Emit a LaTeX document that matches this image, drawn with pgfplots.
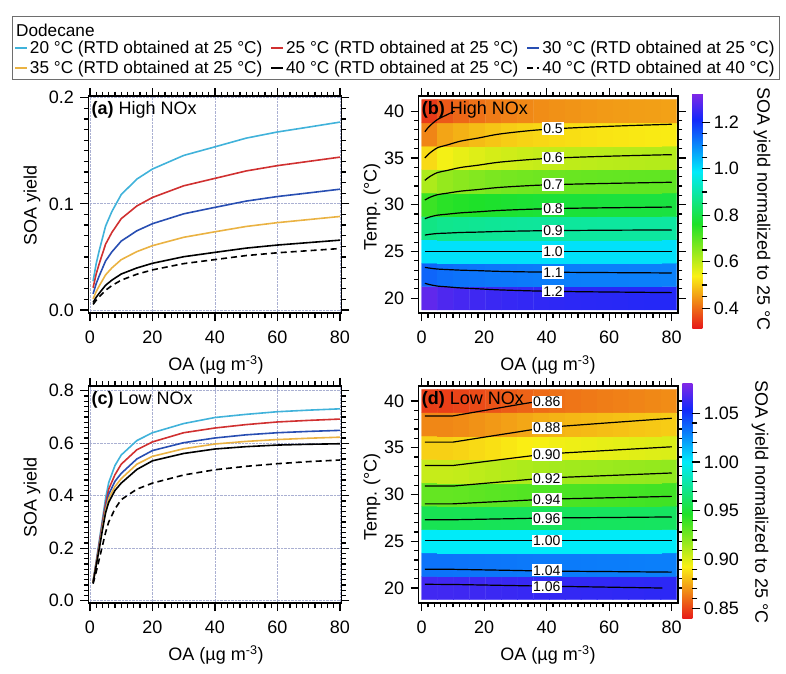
\documentclass[border=0pt]{standalone}
\usepackage{fontspec}
\setmainfont{Liberation Sans}
\usepackage{pgfplots}
\usepackage{pgfplotstable}
\pgfplotsset{compat=1.18}
\definecolor{cA}{RGB}{64,178,218}
\definecolor{cB}{RGB}{208,48,48}
\definecolor{cC}{RGB}{40,78,178}
\definecolor{cD}{RGB}{234,178,66}
\definecolor{gridc}{RGB}{170,176,210}
\definecolor{boxc}{RGB}{110,110,110}
\newcommand\fa{\fontsize{18bp}{21bp}\selectfont}
\newcommand\fl{\fontsize{17.2bp}{19bp}\selectfont}
\newcommand\fc{\fontsize{14bp}{16bp}\selectfont}
\pgfplotsset{
  colormap={igor}{rgb255(0cm)=(230,25,25) rgb255(2cm)=(250,240,20) rgb255(4cm)=(30,225,40) rgb255(6cm)=(0,235,250) rgb255(8cm)=(20,40,250) rgb255(9cm)=(130,40,230)},
  /pgf/number format/assume math mode=true,
  base/.style={scale only axis, anchor=south west,
    tick align=outside, major tick length=8bp, minor tick length=4.5bp,
    every tick/.append style={black, line width=1.2bp},
    xtick pos=both, ytick pos=both, xticklabel pos=lower, yticklabel pos=left,
    axis line style={line width=1.6bp},
    ticklabel style={font=\fa},
    xticklabel style={yshift=-6bp},
    yticklabel style={xshift=-3bp},
    xtick={0,20,40,60,80}, minor x tick num=9},
  cbar/.style={scale only axis, width=10bp,
    ytick pos=right, yticklabel pos=right, tick align=outside,
    major tick length=8bp, minor tick length=5bp,
    every tick/.append style={black, line width=1.2bp},
    axis line style={draw=none}},
  curve/.style={line width=1.6bp},
}
\pgfplotstableread[row sep=\\]{
x y v \\
2.55 20 1.290 \\ 7.65 20 1.272 \\ 12.75 20 1.264 \\ 17.85 20 1.257 \\ 22.95 20 1.252 \\ 28.05 20 1.247 \\ 33.15 20 1.244 \\ 38.25 20 1.241 \\ 43.35 20 1.239 \\ 48.45 20 1.237 \\ 53.55 20 1.235 \\ 58.65 20 1.234 \\ 63.75 20 1.233 \\ 68.85 20 1.231 \\ 73.95 20 1.230 \\ 79.05 20 1.229 \\
2.55 22.5 1.142 \\ 7.65 22.5 1.132 \\ 12.75 22.5 1.128 \\ 17.85 22.5 1.125 \\ 22.95 22.5 1.122 \\ 28.05 22.5 1.120 \\ 33.15 22.5 1.118 \\ 38.25 22.5 1.116 \\ 43.35 22.5 1.115 \\ 48.45 22.5 1.114 \\ 53.55 22.5 1.113 \\ 58.65 22.5 1.112 \\ 63.75 22.5 1.112 \\ 68.85 22.5 1.111 \\ 73.95 22.5 1.111 \\ 79.05 22.5 1.110 \\
2.55 25 1.000 \\ 7.65 25 1.000 \\ 12.75 25 1.000 \\ 17.85 25 1.000 \\ 22.95 25 1.000 \\ 28.05 25 1.000 \\ 33.15 25 1.000 \\ 38.25 25 1.000 \\ 43.35 25 1.000 \\ 48.45 25 1.000 \\ 53.55 25 1.000 \\ 58.65 25 1.000 \\ 63.75 25 1.000 \\ 68.85 25 1.000 \\ 73.95 25 1.000 \\ 79.05 25 1.000 \\
2.55 27.5 0.862 \\ 7.65 27.5 0.871 \\ 12.75 27.5 0.875 \\ 17.85 27.5 0.878 \\ 22.95 27.5 0.881 \\ 28.05 27.5 0.883 \\ 33.15 27.5 0.885 \\ 38.25 27.5 0.886 \\ 43.35 27.5 0.887 \\ 48.45 27.5 0.888 \\ 53.55 27.5 0.889 \\ 58.65 27.5 0.890 \\ 63.75 27.5 0.890 \\ 68.85 27.5 0.891 \\ 73.95 27.5 0.891 \\ 79.05 27.5 0.892 \\
2.55 30 0.734 \\ 7.65 30 0.751 \\ 12.75 30 0.758 \\ 17.85 30 0.764 \\ 22.95 30 0.769 \\ 28.05 30 0.773 \\ 33.15 30 0.776 \\ 38.25 30 0.779 \\ 43.35 30 0.781 \\ 48.45 30 0.783 \\ 53.55 30 0.784 \\ 58.65 30 0.786 \\ 63.75 30 0.787 \\ 68.85 30 0.788 \\ 73.95 30 0.789 \\ 79.05 30 0.790 \\
2.55 32.5 0.618 \\ 7.65 32.5 0.642 \\ 12.75 32.5 0.652 \\ 17.85 32.5 0.660 \\ 22.95 32.5 0.668 \\ 28.05 32.5 0.673 \\ 33.15 32.5 0.678 \\ 38.25 32.5 0.681 \\ 43.35 32.5 0.684 \\ 48.45 32.5 0.687 \\ 53.55 32.5 0.689 \\ 58.65 32.5 0.691 \\ 63.75 32.5 0.692 \\ 68.85 32.5 0.694 \\ 73.95 32.5 0.695 \\ 79.05 32.5 0.697 \\
2.55 35 0.516 \\ 7.65 35 0.545 \\ 12.75 35 0.557 \\ 17.85 35 0.567 \\ 22.95 35 0.576 \\ 28.05 35 0.583 \\ 33.15 35 0.589 \\ 38.25 35 0.593 \\ 43.35 35 0.596 \\ 48.45 35 0.600 \\ 53.55 35 0.602 \\ 58.65 35 0.605 \\ 63.75 35 0.606 \\ 68.85 35 0.608 \\ 73.95 35 0.610 \\ 79.05 35 0.611 \\
2.55 37.5 0.427 \\ 7.65 37.5 0.460 \\ 12.75 37.5 0.473 \\ 17.85 37.5 0.484 \\ 22.95 37.5 0.494 \\ 28.05 37.5 0.502 \\ 33.15 37.5 0.508 \\ 38.25 37.5 0.513 \\ 43.35 37.5 0.517 \\ 48.45 37.5 0.520 \\ 53.55 37.5 0.523 \\ 58.65 37.5 0.526 \\ 63.75 37.5 0.528 \\ 68.85 37.5 0.530 \\ 73.95 37.5 0.532 \\ 79.05 37.5 0.533 \\
2.55 40 0.348 \\ 7.65 40 0.381 \\ 12.75 40 0.395 \\ 17.85 40 0.406 \\ 22.95 40 0.416 \\ 28.05 40 0.424 \\ 33.15 40 0.430 \\ 38.25 40 0.435 \\ 43.35 40 0.439 \\ 48.45 40 0.443 \\ 53.55 40 0.446 \\ 58.65 40 0.449 \\ 63.75 40 0.451 \\ 68.85 40 0.453 \\ 73.95 40 0.454 \\ 79.05 40 0.456 \\
}\tabB
\pgfplotstableread[row sep=\\]{
x y v \\
2.55 20 1.0650 \\ 7.65 20 1.0650 \\ 12.75 20 1.0647 \\ 17.85 20 1.0642 \\ 22.95 20 1.0637 \\ 28.05 20 1.0632 \\ 33.15 20 1.0627 \\ 38.25 20 1.0622 \\ 43.35 20 1.0618 \\ 48.45 20 1.0616 \\ 53.55 20 1.0613 \\ 58.65 20 1.0611 \\ 63.75 20 1.0608 \\ 68.85 20 1.0606 \\ 73.95 20 1.0603 \\ 79.05 20 1.0600 \\
2.55 22.5 1.0334 \\ 7.65 22.5 1.0334 \\ 12.75 22.5 1.0332 \\ 17.85 22.5 1.0329 \\ 22.95 22.5 1.0325 \\ 28.05 22.5 1.0322 \\ 33.15 22.5 1.0318 \\ 38.25 22.5 1.0315 \\ 43.35 22.5 1.0312 \\ 48.45 22.5 1.0311 \\ 53.55 22.5 1.0309 \\ 58.65 22.5 1.0307 \\ 63.75 22.5 1.0306 \\ 68.85 22.5 1.0304 \\ 73.95 22.5 1.0302 \\ 79.05 22.5 1.0300 \\
2.55 25 1.0 \\ 7.65 25 1.0 \\ 12.75 25 1.0 \\ 17.85 25 1.0 \\ 22.95 25 1.0 \\ 28.05 25 1.0 \\ 33.15 25 1.0 \\ 38.25 25 1.0 \\ 43.35 25 1.0 \\ 48.45 25 1.0 \\ 53.55 25 1.0 \\ 58.65 25 1.0 \\ 63.75 25 1.0 \\ 68.85 25 1.0 \\ 73.95 25 1.0 \\ 79.05 25 1.0 \\
2.55 27.5 0.9576 \\ 7.65 27.5 0.9576 \\ 12.75 27.5 0.9578 \\ 17.85 27.5 0.9581 \\ 22.95 27.5 0.9585 \\ 28.05 27.5 0.9588 \\ 33.15 27.5 0.9592 \\ 38.25 27.5 0.9595 \\ 43.35 27.5 0.9598 \\ 48.45 27.5 0.9599 \\ 53.55 27.5 0.9601 \\ 58.65 27.5 0.9603 \\ 63.75 27.5 0.9604 \\ 68.85 27.5 0.9606 \\ 73.95 27.5 0.9608 \\ 79.05 27.5 0.9610 \\
2.55 30 0.9295 \\ 7.65 30 0.9295 \\ 12.75 30 0.9300 \\ 17.85 30 0.9309 \\ 22.95 30 0.9318 \\ 28.05 30 0.9327 \\ 33.15 30 0.9336 \\ 38.25 30 0.9345 \\ 43.35 30 0.9351 \\ 48.45 30 0.9356 \\ 53.55 30 0.9360 \\ 58.65 30 0.9365 \\ 63.75 30 0.9369 \\ 68.85 30 0.9374 \\ 73.95 30 0.9379 \\ 79.05 30 0.9383 \\
2.55 32.5 0.9055 \\ 7.65 32.5 0.9055 \\ 12.75 32.5 0.9062 \\ 17.85 32.5 0.9076 \\ 22.95 32.5 0.9089 \\ 28.05 32.5 0.9102 \\ 33.15 32.5 0.9116 \\ 38.25 32.5 0.9129 \\ 43.35 32.5 0.9138 \\ 48.45 32.5 0.9145 \\ 53.55 32.5 0.9151 \\ 58.65 32.5 0.9158 \\ 63.75 32.5 0.9165 \\ 68.85 32.5 0.9171 \\ 73.95 32.5 0.9178 \\ 79.05 32.5 0.9185 \\
2.55 35 0.8848 \\ 7.65 35 0.8848 \\ 12.75 35 0.8857 \\ 17.85 35 0.8873 \\ 22.95 35 0.8889 \\ 28.05 35 0.8905 \\ 33.15 35 0.8922 \\ 38.25 35 0.8938 \\ 43.35 35 0.8949 \\ 48.45 35 0.8957 \\ 53.55 35 0.8965 \\ 58.65 35 0.8973 \\ 63.75 35 0.8981 \\ 68.85 35 0.8989 \\ 73.95 35 0.8997 \\ 79.05 35 0.9005 \\
2.55 37.5 0.8664 \\ 7.65 37.5 0.8664 \\ 12.75 37.5 0.8674 \\ 17.85 37.5 0.8692 \\ 22.95 37.5 0.8710 \\ 28.05 37.5 0.8728 \\ 33.15 37.5 0.8745 \\ 38.25 37.5 0.8763 \\ 43.35 37.5 0.8775 \\ 48.45 37.5 0.8784 \\ 53.55 37.5 0.8793 \\ 58.65 37.5 0.8803 \\ 63.75 37.5 0.8811 \\ 68.85 37.5 0.8820 \\ 73.95 37.5 0.8829 \\ 79.05 37.5 0.8838 \\
2.55 40 0.8486 \\ 7.65 40 0.8486 \\ 12.75 40 0.8497 \\ 17.85 40 0.8516 \\ 22.95 40 0.8536 \\ 28.05 40 0.8556 \\ 33.15 40 0.8576 \\ 38.25 40 0.8596 \\ 43.35 40 0.8609 \\ 48.45 40 0.8619 \\ 53.55 40 0.8629 \\ 58.65 40 0.8639 \\ 63.75 40 0.8648 \\ 68.85 40 0.8658 \\ 73.95 40 0.8668 \\ 79.05 40 0.8678 \\
}\tabD
\begin{document}
\begin{tikzpicture}
% ---------------- (a) High NOx curves
\begin{axis}[base,
  at={(88.4bp,360.8bp)}, width=253.1bp, height=217.1bp,
  xmin=-0.5, xmax=80.5, ymin=-0.003, ymax=0.2015,
  ytick={0,0.1,0.2}, minor y tick num=9,
  yticklabel style={/pgf/number format/.cd, fixed, fixed zerofill, precision=1},
  grid=major, major grid style={gridc, densely dotted, line width=0.7bp},
  legend columns=3,
  legend cell align=left,
  legend style={at={(-0.294,1.263)}, anchor=north west, draw=none, fill=none,
    font=\fl, inner sep=0pt, row sep=2bp,
    /tikz/every even column/.append style={column sep=6bp}},
  legend image code/.code={\draw[#1, line width=1.8bp] (0bp,0bp) -- (12bp,0bp);},
]
\addplot[curve, cA] coordinates {(1,0.0272) (2,0.0438) (3,0.0564) (5,0.0790) (7,0.0927) (10,0.1087) (15,0.1233) (20,0.1328) (30,0.1456) (40,0.1537) (50,0.1619) (60,0.1677) (70,0.1723) (80,0.1770)};
\addlegendentry{20 °C (RTD obtained at 25 °C)}
\addplot[curve, cB] coordinates {(1,0.021) (2,0.034) (3,0.044) (5,0.062) (7,0.073) (10,0.086) (15,0.098) (20,0.106) (30,0.117) (40,0.124) (50,0.131) (60,0.136) (70,0.140) (80,0.144)};
\addlegendentry{25 °C (RTD obtained at 25 °C)}
\addplot[curve, cC] coordinates {(1,0.0152) (2,0.0249) (3,0.0324) (5,0.0462) (7,0.0547) (10,0.0649) (15,0.0746) (20,0.0813) (30,0.0906) (40,0.0967) (50,0.1026) (60,0.1069) (70,0.1103) (80,0.1138)};
\addlegendentry{30 °C (RTD obtained at 25 °C)}
\addplot[curve, cD] coordinates {(1,0.0105) (2,0.0174) (3,0.0229) (5,0.0331) (7,0.0396) (10,0.0474) (15,0.0550) (20,0.0606) (30,0.0685) (40,0.0737) (50,0.0787) (60,0.0823) (70,0.0852) (80,0.0881)};
\addlegendentry{35 °C (RTD obtained at 25 °C)}
\addplot[curve, black] coordinates {(1,0.0071) (2,0.0120) (3,0.0159) (5,0.0233) (7,0.0281) (10,0.0339) (15,0.0396) (20,0.0440) (30,0.0502) (40,0.0543) (50,0.0583) (60,0.0612) (70,0.0635) (80,0.0658)};
\addlegendentry{40 °C (RTD obtained at 25 °C)}
\addplot[curve, black, dash pattern=on 6bp off 4bp] coordinates {(1,0.0053) (2,0.0092) (3,0.0126) (5,0.0186) (7,0.0230) (10,0.0281) (15,0.0337) (20,0.0378) (30,0.0437) (40,0.0475) (50,0.0513) (60,0.0539) (70,0.0559) (80,0.0579)};
\addlegendentry{40 °C (RTD obtained at 40 °C)}
\node[anchor=north west, inner sep=0pt, font=\fa] at (rel axis cs:0.012,0.978) {\textbf{(a)} High NOx};
\end{axis}
% ---------------- (c) Low NOx curves
\begin{axis}[base,
  at={(88.4bp,70.9bp)}, width=253.1bp, height=217.1bp,
  xmin=-0.5, xmax=80.5, ymin=-0.009, ymax=0.818,
  ytick={0,0.2,0.4,0.6,0.8}, minor y tick num=9,
  yticklabel style={/pgf/number format/.cd, fixed, fixed zerofill, precision=1},
  grid=major, major grid style={gridc, densely dotted, line width=0.7bp},
]
\addplot[curve, cA] coordinates {(1,0.075) (2,0.15) (3,0.23) (4,0.31) (5,0.39) (6,0.45) (8,0.515) (10,0.555) (15,0.61) (20,0.64) (30,0.675) (40,0.698) (50,0.71) (60,0.72) (70,0.726) (80,0.731)};
\addplot[curve, cB] coordinates {(1,0.072) (2,0.145) (3,0.22) (4,0.30) (5,0.37) (6,0.425) (8,0.48) (10,0.52) (15,0.575) (20,0.605) (30,0.64) (40,0.658) (50,0.671) (60,0.681) (70,0.687) (80,0.692)};
\addplot[curve, cC] coordinates {(1,0.07) (2,0.14) (3,0.21) (4,0.29) (5,0.355) (6,0.405) (8,0.455) (10,0.485) (15,0.54) (20,0.572) (30,0.602) (40,0.62) (50,0.632) (60,0.64) (70,0.645) (80,0.649)};
\addplot[curve, cD] coordinates {(1,0.07) (2,0.138) (3,0.205) (4,0.28) (5,0.345) (6,0.39) (8,0.435) (10,0.465) (15,0.52) (20,0.55) (30,0.579) (40,0.597) (50,0.607) (60,0.614) (70,0.619) (80,0.623)};
\addplot[curve, black] coordinates {(1,0.068) (2,0.135) (3,0.2) (4,0.27) (5,0.335) (6,0.375) (8,0.42) (10,0.448) (15,0.5) (20,0.533) (30,0.561) (40,0.578) (50,0.587) (60,0.593) (70,0.596) (80,0.598)};
\addplot[curve, black, dash pattern=on 6bp off 4bp] coordinates {(1,0.065) (2,0.11) (3,0.16) (4,0.21) (5,0.26) (6,0.30) (8,0.35) (10,0.385) (15,0.425) (20,0.448) (30,0.479) (40,0.499) (50,0.512) (60,0.522) (70,0.53) (80,0.536)};
\node[anchor=north west, inner sep=0pt, font=\fa] at (rel axis cs:0.012,0.978) {\textbf{(c)} Low NOx};
\end{axis}
% ---------------- (b) High NOx map
\begin{axis}[base,
  at={(418.6bp,360.8bp)}, width=259.4bp, height=217bp,
  xmin=-1, xmax=82, ymin=18.4, ymax=41.6,
  ytick={20,25,30,35,40}, minor y tick num=4,
  axis on top, colormap name=igor,
  point meta min=0.314, point meta max=1.325,
  colorbar,
  colorbar style={cbar, at={(parent axis.north east)}, anchor=north west,
    xshift=5.9bp, yshift=3bp, height=235bp,
    ytick={0.4,0.6,0.8,1.0,1.2}, minor y tick num=3,
    yticklabel style={font=\fa, /pgf/number format/.cd, fixed, fixed zerofill, precision=1}},
]
\addplot[matrix plot*, mesh/cols=16, point meta=explicit] table[x=x, y=y, meta=v] {\tabB};
\addplot[black, line width=1.2bp, smooth] coordinates {(1,37.8) (2.5,38.4) (5,39.1) (8,39.6) (10.5,40.0)};
\addplot[black, line width=1.2bp, smooth] coordinates {(1,35.0) (2.5,35.50) (5,36.08) (8,36.37) (12.5,36.80) (18,37.12) (25,37.56) (37,37.99) (50,38.24) (65,38.44) (80,38.6)};
\addplot[black, line width=1.2bp, smooth] coordinates {(1,32.6) (2.5,32.99) (5,33.43) (8,33.65) (12.5,33.98) (18,34.22) (25,34.55) (37,34.88) (50,35.08) (65,35.23) (80,35.35)};
\addplot[black, line width=1.2bp, smooth] coordinates {(1,30.5) (2.5,30.77) (5,31.07) (8,31.22) (12.5,31.45) (18,31.62) (25,31.85) (37,32.08) (50,32.21) (65,32.31) (80,32.4)};
\addplot[black, line width=1.2bp, smooth] coordinates {(1,28.5) (2.5,28.68) (5,28.88) (8,28.98) (12.5,29.13) (18,29.24) (25,29.39) (37,29.54) (50,29.63) (65,29.69) (80,29.75)};
\addplot[black, line width=1.2bp, smooth] coordinates {(1,26.75) (2.5,26.83) (5,26.92) (8,26.96) (12.5,27.03) (18,27.07) (25,27.14) (37,27.21) (50,27.25) (65,27.28) (80,27.3)};
\addplot[black, line width=1.2bp] coordinates {(1,25.0) (80,25.0)};
\addplot[black, line width=1.2bp, smooth] coordinates {(1,23.3) (2.5,23.22) (5,23.12) (8,23.07) (12.5,23.0) (18,22.95) (25,22.87) (37,22.80) (50,22.76) (65,22.73) (80,22.7)};
\addplot[black, line width=1.2bp, smooth] coordinates {(1,21.6) (2.5,21.46) (5,21.30) (8,21.22) (12.5,21.10) (18,21.01) (25,20.89) (37,20.77) (50,20.70) (65,20.65) (80,20.6)};
\node[fill=white, inner sep=1.2bp, font=\fc] at (axis cs:42,38.15) {0.5};
\node[fill=white, inner sep=1.2bp, font=\fc] at (axis cs:42,35.0) {0.6};
\node[fill=white, inner sep=1.2bp, font=\fc] at (axis cs:42,32.15) {0.7};
\node[fill=white, inner sep=1.2bp, font=\fc] at (axis cs:42,29.55) {0.8};
\node[fill=white, inner sep=1.2bp, font=\fc] at (axis cs:42,27.22) {0.9};
\node[fill=white, inner sep=1.2bp, font=\fc] at (axis cs:42,25.0) {1.0};
\node[fill=white, inner sep=1.2bp, font=\fc] at (axis cs:42,22.75) {1.1};
\node[fill=white, inner sep=1.2bp, font=\fc] at (axis cs:42,20.75) {1.2};
\node[anchor=north west, inner sep=0pt, font=\fa] at (rel axis cs:0.012,0.978) {\textbf{(b)} High NOx};
\end{axis}
% ---------------- (d) Low NOx map
\begin{axis}[base,
  at={(418.6bp,71bp)}, width=259.4bp, height=217bp,
  xmin=-1, xmax=82, ymin=18.4, ymax=41.6,
  ytick={20,25,30,35,40}, minor y tick num=4,
  axis on top, colormap name=igor,
  point meta min=0.839, point meta max=1.081,
  colorbar,
  colorbar style={cbar, at={(parent axis.north east)}, anchor=north west,
    xshift=-4.1bp, yshift=3bp, height=236bp,
    ytick={0.85,0.9,0.95,1.0,1.05}, minor y tick num=4,
    yticklabel style={font=\fa, /pgf/number format/.cd, fixed, fixed zerofill, precision=2}},
]
\addplot[matrix plot*, mesh/cols=16, point meta=explicit] table[x=x, y=y, meta=v] {\tabD};
\addplot[black, line width=1.2bp] coordinates {(1,38.4) (10,38.4) (20,38.98) (30,39.56) (38,40.0)};
\addplot[black, line width=1.2bp] coordinates {(1,35.6) (10,35.6) (20,36.13) (30,36.65) (40,37.18) (60,37.67) (80,38.15)};
\addplot[black, line width=1.2bp] coordinates {(1,33.1) (10,33.1) (20,33.51) (30,33.93) (40,34.34) (60,34.72) (80,35.1)};
\addplot[black, line width=1.2bp] coordinates {(1,30.9) (10,30.9) (20,31.19) (30,31.48) (40,31.77) (60,32.03) (80,32.3)};
\addplot[black, line width=1.2bp] coordinates {(1,29.0) (10,29.0) (20,29.17) (30,29.33) (40,29.5) (60,29.65) (80,29.8)};
\addplot[black, line width=1.2bp] coordinates {(1,27.3) (10,27.3) (20,27.36) (30,27.42) (40,27.49) (60,27.54) (80,27.6)};
\addplot[black, line width=1.2bp] coordinates {(1,25.05) (80,25.05)};
\addplot[black, line width=1.2bp] coordinates {(1,22.0) (10,22.0) (20,21.94) (30,21.88) (40,21.81) (60,21.76) (80,21.7)};
\addplot[black, line width=1.2bp] coordinates {(1,20.4) (10,20.38) (40,20.2) (77,20.0)};
\node[fill=white, inner sep=1.2bp, font=\fc] at (axis cs:40,39.9) {0.86};
\node[fill=white, inner sep=1.2bp, font=\fc] at (axis cs:40,37.12) {0.88};
\node[fill=white, inner sep=1.2bp, font=\fc] at (axis cs:40,34.28) {0.90};
\node[fill=white, inner sep=1.2bp, font=\fc] at (axis cs:40,31.65) {0.92};
\node[fill=white, inner sep=1.2bp, font=\fc] at (axis cs:40,29.45) {0.94};
\node[fill=white, inner sep=1.2bp, font=\fc] at (axis cs:40,27.45) {0.96};
\node[fill=white, inner sep=1.2bp, font=\fc] at (axis cs:40,25.05) {1.00};
\node[fill=white, inner sep=1.2bp, font=\fc] at (axis cs:40,21.9) {1.04};
\node[fill=white, inner sep=1.2bp, font=\fc] at (axis cs:40,20.1) {1.06};
\node[anchor=north west, inner sep=0pt, font=\fa] at (rel axis cs:0.012,0.978) {\textbf{(d)} Low NOx};
\end{axis}
% ---------------- labels
\node[rotate=90, font=\fa] at (32bp,469bp) {SOA yield};
\node[rotate=90, font=\fa] at (32bp,177bp) {SOA yield};
\node[rotate=90, font=\fa] at (372bp,467bp) {Temp. (°C)};
\node[rotate=90, font=\fa] at (372bp,177bp) {Temp. (°C)};
\node[font=\fa] at (216bp,309bp) {OA (µg m\textsuperscript{-3})};
\node[font=\fa] at (548bp,309bp) {OA (µg m\textsuperscript{-3})};
\node[font=\fa] at (216bp,19bp) {OA (µg m\textsuperscript{-3})};
\node[font=\fa] at (548bp,19bp) {OA (µg m\textsuperscript{-3})};
\node[rotate=-90, font=\fa] at (762bp,465bp) {SOA yield normalized to 25 °C};
\node[rotate=-90, font=\fa] at (760bp,172bp) {SOA yield normalized to 25 °C};
% legend frame and title
\draw[boxc, line width=1bp] (12bp,594bp) rectangle (779bp,657bp);
\node[anchor=west, inner sep=0pt, font=\fl] at (16bp,644bp) {Dodecane};
\pgfresetboundingbox
\useasboundingbox (0,0) rectangle (786bp,674bp);
\end{tikzpicture}
\end{document}
